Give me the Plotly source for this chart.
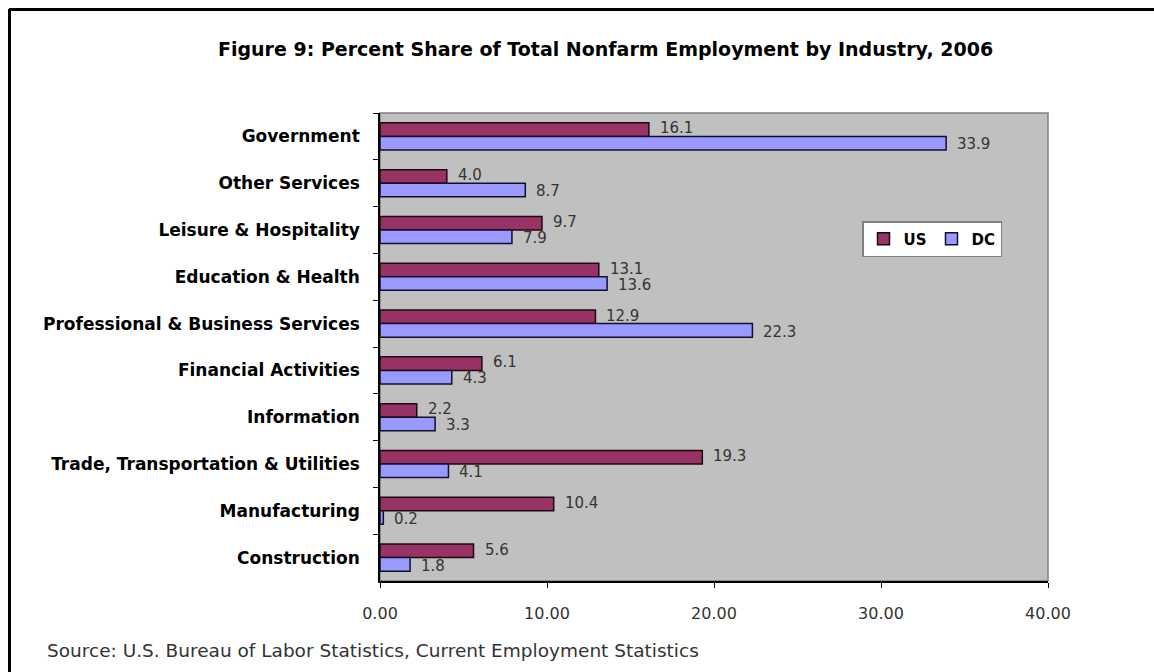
import plotly.graph_objects as go

# Industries listed top to bottom
industries = [
    "Government",
    "Other Services",
    "Leisure & Hospitality",
    "Education & Health",
    "Professional & Business Services",
    "Financial Activities",
    "Information",
    "Trade, Transportation & Utilities",
    "Manufacturing",
    "Construction",
]
us_share = [16.1, 4.0, 9.7, 13.1, 12.9, 6.1, 2.2, 19.3, 10.4, 5.6]
dc_share = [33.9, 8.7, 7.9, 13.6, 22.3, 4.3, 3.3, 4.1, 0.2, 1.8]
x_ticks = [0, 10, 20, 30, 40]

W, H = 1154, 672
ML, MR, MT, MB = 380, 106, 113, 91
PW, PH = W - ML - MR, H - MT - MB

US_COLOR = "#993366"
DC_COLOR = "#9999FF"
TXT = "#333333"
FONT = "DejaVu Sans, Liberation Sans, Arial"

fig = go.Figure()
fig.add_trace(go.Bar(
    name="US", y=industries, x=us_share, orientation="h",
    marker=dict(color=US_COLOR, line=dict(color="#1a0a10", width=1.5)),
))
fig.add_trace(go.Bar(
    name="DC", y=industries, x=dc_share, orientation="h",
    marker=dict(color=DC_COLOR, line=dict(color="#10102a", width=1.5)),
))

# value labels to the right of each bar
for cat, u, d in zip(industries, us_share, dc_share):
    for val, shift in ((u, 8), (d, -8)):
        fig.add_annotation(
            x=val, y=cat, text=f"{val:.1f}", showarrow=False,
            xanchor="left", yanchor="middle", xshift=9, yshift=shift,
            font=dict(family=FONT, size=15, color=TXT),
        )

# helpers: figure pixel -> paper coordinate
def px_x(p):
    return (p - ML) / PW

def px_y(p):
    return (H - MB - p) / PH

# figure frame (top and left edges)
fig.add_shape(type="line", xref="paper", yref="paper",
              x0=px_x(9), x1=px_x(W + 5), y0=px_y(9.5), y1=px_y(9.5),
              line=dict(color="black", width=3))
fig.add_shape(type="line", xref="paper", yref="paper",
              x0=px_x(9.5), x1=px_x(9.5), y0=px_y(9), y1=px_y(H + 5),
              line=dict(color="black", width=3))
# plot area border
fig.add_shape(type="rect", xref="paper", yref="paper",
              x0=0, x1=1, y0=0, y1=1, layer="below",
              line=dict(color="#808080", width=1.5))

fig.add_annotation(
    text="Figure 9: Percent Share of Total Nonfarm Employment by Industry, 2006",
    xref="paper", yref="paper", x=px_x(605), y=px_y(49),
    xanchor="center", yanchor="middle", showarrow=False,
    font=dict(family=FONT, size=19, color="#000000", weight="bold"),
)
fig.add_annotation(
    text="Source: U.S. Bureau of Labor Statistics, Current Employment Statistics",
    xref="paper", yref="paper", x=px_x(45), y=px_y(650),
    xanchor="left", yanchor="middle", showarrow=False,
    font=dict(family=FONT, size=18.5, color=TXT),
)

fig.update_layout(
    width=W, height=H,
    margin=dict(l=ML, r=MR, t=MT, b=MB),
    paper_bgcolor="white",
    plot_bgcolor="#C0C0C0",
    barmode="group",
    bargap=0.42,
    bargroupgap=0,
    showlegend=True,
    legend=dict(
        x=px_x(862), y=px_y(221), xanchor="left", yanchor="top",
        orientation="h", bgcolor="white", bordercolor="#808080", borderwidth=1.5,
        font=dict(family=FONT, size=15, color="#000000", weight="bold"),
        itemwidth=30,
    ),
    xaxis=dict(
        range=[0, 40], tickvals=x_ticks, tickformat=".2f",
        showgrid=False, zeroline=False,
        showline=True, linecolor="#000000", linewidth=1.5,
        ticks="outside", ticklen=5, tickcolor="#000000",
        ticklabelstandoff=12,
        tickfont=dict(family=FONT, size=16, color=TXT),
    ),
    yaxis=dict(
        autorange="reversed", showgrid=False,
        showline=True, linecolor="#000000", linewidth=1.5,
        ticks="outside", ticklen=5, tickcolor="#000000", tickson="boundaries",
        ticklabelstandoff=15,
        tickfont=dict(family=FONT, size=17, color="#000000", weight="bold"),
    ),
)

fig.write_html("out.html")
